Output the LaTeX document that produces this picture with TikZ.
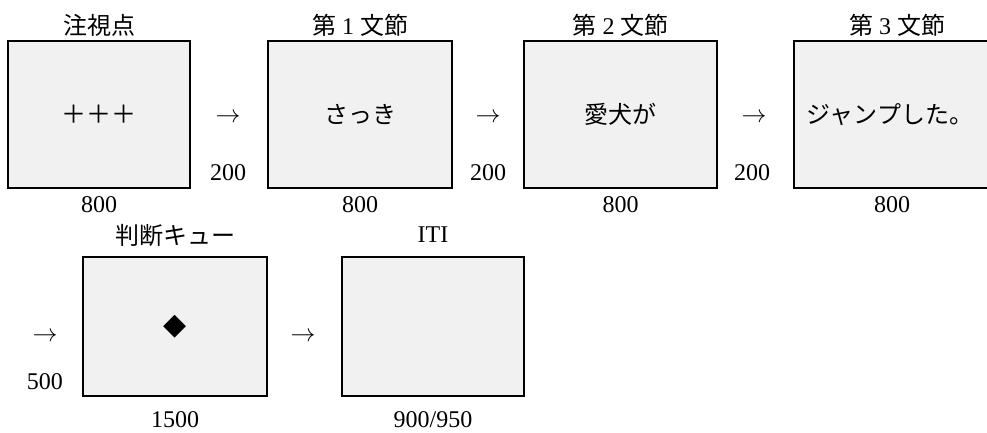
\documentclass[tikz,border=0pt]{standalone}
\usepackage{fontspec}
\setmainfont{Liberation Serif}
\newfontfamily\cjk{Noto Sans CJK JP}
\newfontfamily\symf{DejaVu Sans}
\definecolor{scrgray}{HTML}{F1F1F1}
\begin{document}
\begin{tikzpicture}[x=1pt,y=-1pt,
  font=\fontsize{24}{28}\selectfont,
  screen/.style={draw=black, line width=2.5pt, fill=scrgray, inner sep=0pt, minimum height=147pt},
  screenb/.style={screen, minimum height=139pt},
  lbl/.style={inner sep=0pt, anchor=center}]
\useasboundingbox (0,0) rectangle (987,432);
\clip (0,0) rectangle (987,432);
% row 1
\node[screen, minimum width=182pt] (b1) at (99,114.5) {\cjk\fontsize{25}{28}\selectfont ＋＋＋};
\node[screen, minimum width=184pt] (b2) at (360,114.5) {\cjk さっき};
\node[screen, minimum width=193pt] (b3) at (620.5,114.5) {\cjk 愛犬が};
\node[screen, minimum width=206pt] (b4) at (897,114.5) {};
\node[lbl] (t4in) at (890,114.5) {\cjk ジャンプした。};
\node[lbl] (t1) at (99,25) {\cjk 注視点};
\node[lbl] (t2) at (360,25) {{\cjk 第} 1 {\cjk 文節}};
\node[lbl] (t3) at (620.5,25) {{\cjk 第} 2 {\cjk 文節}};
\node[lbl] (t4) at (897,25) {{\cjk 第} 3 {\cjk 文節}};
\node[lbl] (d1) at (99,205) {800};
\node[lbl] (d2) at (360,205) {800};
\node[lbl] (d3) at (620.5,205) {800};
\node[lbl] (d4) at (892,205) {800};
\node[lbl] (a1) at (228,118) {$\rightarrow$};
\node[lbl] (a2) at (488,118) {$\rightarrow$};
\node[lbl] (a3) at (754,118) {$\rightarrow$};
\node[lbl] (i1) at (228,173) {200};
\node[lbl] (i2) at (488,173) {200};
\node[lbl] (i3) at (752,173) {200};
% row 2
\node[screenb, minimum width=184pt] (b5) at (175,326.5) {\symf\fontsize{30}{32}\selectfont ◆};
\node[screenb, minimum width=182pt] (b6) at (433,326.5) {};
\node[lbl] (t5) at (175,235) {\cjk 判断キュー};
\node[lbl] (t6) at (433,235) {ITI};
\node[lbl] (d5) at (175,420) {1500};
\node[lbl] (d6) at (433,420) {900/950};
\node[lbl] (a4) at (45,337) {$\rightarrow$};
\node[lbl] (a5) at (303,337) {$\rightarrow$};
\node[lbl] (i4) at (45,382) {500};
\end{tikzpicture}
\end{document}
